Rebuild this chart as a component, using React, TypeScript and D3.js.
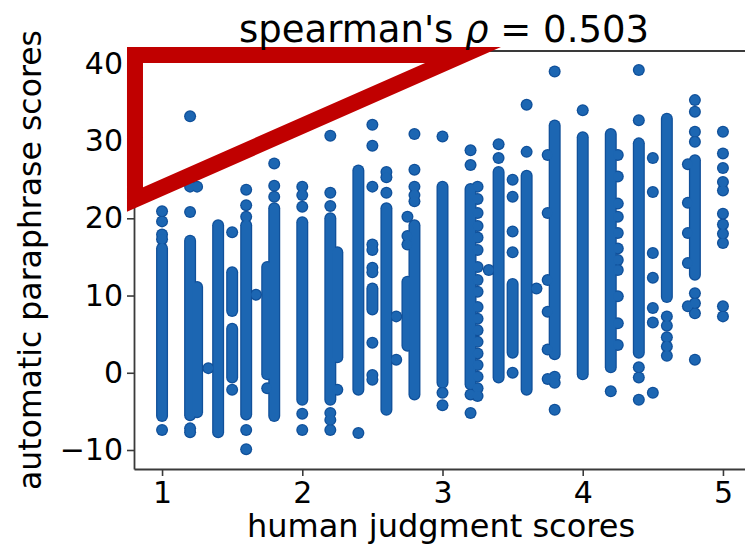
import React, { useEffect, useRef } from "react";
import * as d3 from "d3";

// ---- axis / text content ----
const xTicks = [1, 2, 3, 4, 5];
const yTicks = [-10, 0, 10, 20, 30, 40];
const xDomain: [number, number] = [0.8, 5.2];
const yDomain: [number, number] = [-12.46, 41.66];
const titleLead = "spearman's ";
const titleSymbol = "ρ";
const titleTail = " = 0.503";
const xLabel = "human judgment scores";
const yLabel = "automatic paraphrase scores";

// ---- data: runs of overlapping markers in a column [x, yTop, yBottom] ----
const columnRuns: [number, number, number][] = [
  [1.0, 16.1, -5.6],
  [1.2, 17.1, -5.5],
  [1.25, 11.1, -5.1],
  [1.4, 19.1, -7.7],
  [1.5, 13.0, 8.0],
  [1.5, 5.7, -0.6],
  [1.6, 19.1, -5.4],
  [1.75, 13.7, -0.2],
  [1.8, 21.3, -5.6],
  [2.0, 19.5, -3.5],
  [2.2, 20.0, -3.5],
  [2.25, 15.6, 2.0],
  [2.4, 26.2, -2.2],
  [2.5, 10.9, 8.2],
  [2.6, 21.3, -4.8],
  [2.75, 11.8, 3.5],
  [2.8, 19.1, -2.8],
  [3.0, 24.1, -1.3],
  [3.2, 23.8, -1.5],
  [3.4, 26.0, -0.6],
  [3.5, 11.5, 2.6],
  [3.6, 25.5, -2.2],
  [3.8, 32.0, 2.4],
  [4.0, 30.5, -0.2],
  [4.2, 30.9, 0.7],
  [4.4, 29.7, 2.6],
  [4.6, 32.9, 9.8],
  [4.8, 27.5, 12.7],
];

// ---- data: individual markers, per column x ----
const pointColumns: [number, number[]][] = [
  [1.0, [20.9, 19.6, 17.9, 17.3, -7.4]],
  [1.2, [33.2, 24.1, 20.8, -7.2, -7.7]],
  [1.25, [24.1]],
  [1.33, [0.6]],
  [1.5, [18.2, -2.2]],
  [1.6, [23.7, 21.7, 20.2, -7.4, -9.9]],
  [1.67, [10.1]],
  [1.75, [-2.0]],
  [1.8, [27.1, 24.2, 22.8]],
  [2.0, [24.1, 23.0, 21.5, -5.3, -7.4]],
  [2.2, [30.7, 23.3, 21.6, -5.2, -6.1, -7.4]],
  [2.25, [-2.2]],
  [2.4, [-7.8]],
  [2.5, [32.1, 29.4, 24.1, 16.6, 15.9, 13.6, 13.0, 3.9, -0.3, -0.9]],
  [2.6, [26.0, 25.3, 23.3]],
  [2.67, [7.3, 1.7]],
  [2.75, [20.2, 17.7, 16.6]],
  [2.8, [30.9, 26.3, 24.1, 23.0, 22.2]],
  [3.0, [30.6, -2.6, -4.2]],
  [3.2, [28.8, 26.9, -2.8, -5.2]],
  [3.25, [24.1, 22.5, 20.7, 19.0, 17.5, 15.9, 13.7, 12.0, 10.5, 8.5, 7.0, 5.5, 4.0, 2.5, 1.0, -0.5, -2.0, -3.0]],
  [3.33, [13.3]],
  [3.4, [29.6, 27.8]],
  [3.5, [25.0, 22.8, 18.3, 15.6, 0.0]],
  [3.6, [34.7, 28.6]],
  [3.67, [10.9]],
  [3.75, [28.2, 20.7, 12.0, 7.9, 3.0, -0.8]],
  [3.8, [39.0, -0.5, -1.3, -4.8]],
  [4.0, [34.0]],
  [4.2, [-2.4]],
  [4.25, [28.2, 25.4, 21.9, 20.2, 18.1, 16.1, 14.6, 13.3, 9.9, 6.4, 3.6]],
  [4.4, [39.2, 32.7, 0.7, -0.6, -3.5]],
  [4.5, [27.8, 23.4, 15.5, 12.3, 8.4, 6.5, -2.6]],
  [4.6, [7.3, 6.1, 4.6, 3.4, 2.2]],
  [4.75, [27.0, 22.0, 18.1, 14.2, 8.6]],
  [4.8, [35.3, 33.8, 31.2, 29.9, 10.3, 9.0, 7.7, 1.7]],
  [5.0, [31.2, 28.4, 26.5, 24.7, 23.6, 20.6, 19.2, 18.0, 16.8, 8.6, 7.3]],
];

// ---- annotation: red highlight triangle (data coordinates) ----
const highlightTriangle: [number, number][] = [
  [0.807, 41.14],
  [3.146, 41.14],
  [0.807, 22.43],
];

export default function App() {
  const ref = useRef<SVGSVGElement>(null);

  useEffect(() => {
    const W = 745, H = 546;
    const left = 134, right = 751, top = 51, bottom = 469;
    const font = "'DejaVu Sans', sans-serif";
    const svg = d3.select(ref.current);
    svg.selectAll("*").remove();

    const x = d3.scaleLinear().domain(xDomain).range([left, right]);
    const y = d3.scaleLinear().domain(yDomain).range([bottom, top]);

    svg.append("rect").attr("width", W).attr("height", H).attr("fill", "#ffffff");

    svg.append("defs").append("clipPath").attr("id", "plotclip")
      .append("rect").attr("x", left).attr("y", top)
      .attr("width", right - left).attr("height", bottom - top);

    const points = pointColumns.flatMap(([cx, ys]) => ys.map((v) => [cx, v] as [number, number]));

    const g = svg.append("g").attr("clip-path", "url(#plotclip)");
    const R = 5.5;
    const rim = "#10509a";
    const fill = "#1c66b2";

    // rim layer
    g.append("g").selectAll("line").data(columnRuns).join("line")
      .attr("x1", (d) => x(d[0])).attr("x2", (d) => x(d[0]))
      .attr("y1", (d) => y(d[1])).attr("y2", (d) => y(d[2]))
      .attr("stroke", rim).attr("stroke-width", 2 * R + 1).attr("stroke-linecap", "round");
    g.append("g").selectAll("circle").data(points).join("circle")
      .attr("cx", (d) => x(d[0])).attr("cy", (d) => y(d[1]))
      .attr("r", R + 0.5).attr("fill", rim);
    // fill layer
    g.append("g").selectAll("line").data(columnRuns).join("line")
      .attr("x1", (d) => x(d[0])).attr("x2", (d) => x(d[0]))
      .attr("y1", (d) => y(d[1])).attr("y2", (d) => y(d[2]))
      .attr("stroke", fill).attr("stroke-width", 2 * R - 1.5).attr("stroke-linecap", "round");
    g.append("g").selectAll("circle").data(points).join("circle")
      .attr("cx", (d) => x(d[0])).attr("cy", (d) => y(d[1]))
      .attr("r", R - 0.75).attr("fill", fill);

    const spine = "#3a3a3a";
    // axes
    const ax = svg.append("g").attr("transform", `translate(0,${bottom})`)
      .call(d3.axisBottom(x).tickValues(xTicks).tickSize(7).tickSizeOuter(0).tickPadding(6).tickFormat(d3.format("d")));
    const ay = svg.append("g").attr("transform", `translate(${left},0)`)
      .call(d3.axisLeft(y).tickValues(yTicks).tickSize(7).tickSizeOuter(0).tickPadding(4).tickFormat((d) => {
        const v = d as number;
        return v < 0 ? "\u2212" + Math.abs(v) : String(v);
      }));
    [ax, ay].forEach((a) => {
      a.attr("font-size", 30).attr("font-family", font);
      a.selectAll("path").attr("stroke", spine).attr("stroke-width", 1.8);
      a.selectAll("line").attr("stroke", spine).attr("stroke-width", 1.6);
      a.selectAll("text").attr("fill", "#000");
    });
    // top and right spines
    svg.append("line").attr("x1", left).attr("x2", right).attr("y1", top).attr("y2", top)
      .attr("stroke", spine).attr("stroke-width", 1.8);
    svg.append("line").attr("x1", right).attr("x2", right).attr("y1", top).attr("y2", bottom)
      .attr("stroke", spine).attr("stroke-width", 1.8);

    // red triangle annotation
    const tri = d3.line<[number, number]>().x((d) => x(d[0])).y((d) => y(d[1]));
    svg.append("path").attr("d", tri(highlightTriangle) + "Z")
      .attr("fill", "none").attr("stroke", "#c00000").attr("stroke-width", 16)
      .attr("stroke-linejoin", "miter").attr("stroke-miterlimit", 10);

    // title
    const t = svg.append("text").attr("x", 444).attr("y", 42)
      .attr("text-anchor", "middle").attr("font-family", font).attr("font-size", 37).attr("fill", "#000");
    t.append("tspan").text(titleLead);
    t.append("tspan").attr("font-style", "italic").text(titleSymbol);
    t.append("tspan").text(titleTail);

    // axis labels
    svg.append("text").attr("x", 441).attr("y", 537)
      .attr("text-anchor", "middle").attr("font-family", font).attr("font-size", 32).attr("fill", "#000")
      .text(xLabel);
    svg.append("text").attr("transform", `translate(41,${(top + bottom) / 2}) rotate(-90)`)
      .attr("text-anchor", "middle").attr("font-family", font).attr("font-size", 31.5).attr("fill", "#000")
      .text(yLabel);
  }, []);

  return (
    <svg ref={ref} width={745} height={546}
      style={{ position: "absolute", left: 0, top: 0, display: "block" }} />
  );
}
